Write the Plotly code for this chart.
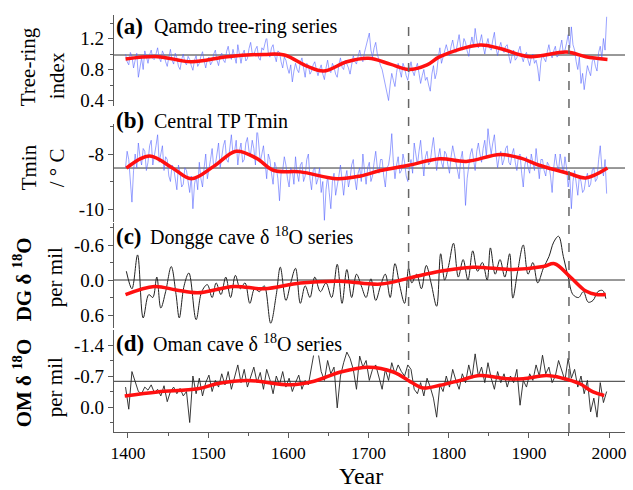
import plotly.graph_objects as go

# ---------------- data ----------------
years2 = list(range(1397, 1998, 2))
years4 = list(range(1397, 1998, 4))

tree_ring = [
    1.00, 0.90, 0.86, 1.02, 0.97, 0.82, 0.92, 1.01, 0.70, 0.85, 0.95, 0.80, 1.04, 0.97, 0.88, 0.99, 1.05, 0.94, 0.93, 1.00,
    1.08, 0.95, 0.90, 1.04, 0.99, 0.90, 0.84, 0.96, 1.06, 0.92, 0.87, 1.01, 0.95, 0.84, 0.80, 0.93, 1.00, 0.89, 0.86, 0.97,
    0.93, 0.85, 0.79, 0.92, 0.98, 0.84, 0.88, 0.97, 1.03, 0.91, 0.82, 0.93, 0.96, 0.86, 0.90, 1.00, 1.05, 0.92, 0.85, 0.97,
    1.01, 0.92, 0.89, 1.03, 1.10, 0.98, 0.93, 1.06, 0.97, 0.88, 1.12, 0.99, 0.88, 1.00, 1.05, 0.91, 0.94, 1.07, 1.15, 1.01,
    0.98, 1.06, 1.10, 0.95, 0.92, 1.08, 1.05, 1.14, 1.22, 1.02, 0.96, 1.08, 1.12, 0.98, 0.90, 1.04, 1.02, 0.90, 0.82, 0.96,
    0.92, 0.82, 0.75, 0.86, 0.64, 0.78, 0.88, 0.80, 0.76, 0.89, 0.95, 0.82, 0.70, 0.88, 0.85, 0.74, 0.78, 0.86, 0.90, 0.80,
    0.72, 0.80, 0.86, 0.74, 0.67, 0.82, 0.92, 0.79, 0.76, 0.88, 0.83, 0.74, 0.70, 0.86, 0.95, 0.83, 0.80, 0.92, 0.88, 0.82,
    0.74, 0.88, 0.98, 0.90, 0.87, 0.97, 1.05, 0.95, 0.90, 1.02, 1.10, 1.18, 1.27, 1.05, 0.96, 1.08, 1.15, 1.00, 0.92, 0.85,
    0.80, 0.70, 0.62, 0.52, 0.40, 0.60, 0.75, 0.66, 0.58, 0.76, 0.88, 0.79, 0.70, 0.88, 0.82, 0.72, 0.66, 0.80, 0.90, 0.78,
    0.72, 0.82, 0.88, 0.75, 0.62, 0.72, 0.80, 0.66, 0.70, 0.60, 0.52, 0.74, 0.85, 0.68, 0.76, 0.95, 1.08, 0.88, 0.95, 1.04,
    1.12, 1.04, 0.98, 1.10, 1.18, 1.06, 1.02, 1.14, 1.25, 1.08, 1.05, 1.20, 1.15, 1.04, 0.97, 1.12, 1.22, 1.10, 1.33, 1.18,
    1.08, 1.16, 1.25, 1.10, 1.00, 1.12, 1.20, 1.08, 1.05, 1.18, 1.28, 1.08, 0.98, 1.08, 1.15, 1.05, 1.02, 1.10, 1.12, 0.98,
    0.88, 0.98, 1.05, 0.92, 0.95, 1.04, 1.10, 0.97, 0.90, 0.99, 1.02, 0.92, 0.85, 0.96, 1.00, 0.88, 0.92, 0.82, 0.65, 0.90,
    1.00, 0.94, 0.90, 1.03, 1.12, 1.00, 0.95, 1.04, 1.10, 0.96, 0.98, 1.08, 1.18, 1.00, 1.05, 1.14, 1.25, 1.08, 1.35, 1.12,
    1.05, 0.90, 0.80, 0.96, 0.62, 0.75, 0.54, 0.70, 0.85, 0.78, 0.72, 0.90, 0.95, 0.84, 0.78, 1.02, 1.10, 0.95, 1.20, 1.05,
    1.48,
]
tree_smooth_years = [1397, 1437, 1479, 1524, 1570, 1595, 1624, 1644, 1673, 1700,
                     1727, 1750, 1773, 1789, 1839, 1864, 1901, 1947, 1971, 1998]
tree_smooth = [0.935, 0.966, 0.90, 0.966, 0.995, 0.987, 0.84, 0.78, 0.90, 0.944,
               0.87, 0.80, 0.86, 0.966, 1.116, 1.07, 0.965, 1.025, 0.965, 0.93]
tree_mean = 0.987

tmin = [
    -8.5, -7.9, -8.2, -8.9, -9.75, -8.6, -8.0, -8.5, -7.6, -8.1, -8.4, -7.8, -7.9, -8.6, -8.3, -7.7, -7.5, -8.4, -8.1, -7.7,
    -7.3, -8.3, -8.0, -7.7, -8.6, -8.1, -8.2, -8.8, -9.0, -8.4, -8.5, -9.0, -9.3, -8.4, -8.7, -9.2, -9.1, -8.5, -8.6, -9.0,
    -9.4, -8.8, -9.99, -9.1, -8.8, -9.3, -8.3, -8.9, -9.2, -8.5, -8.0, -8.9, -8.6, -8.2, -7.8, -8.5, -8.4, -8.0, -7.6, -8.5,
    -8.1, -7.7, -7.5, -8.2, -8.3, -7.8, -7.3, -8.0, -7.9, -7.5, -8.4, -7.9, -7.6, -8.3, -8.2, -7.6, -7.4, -7.9, -8.0, -7.5,
    -7.8, -8.4, -7.02, -7.6, -8.3, -8.0, -7.7, -8.3, -8.9, -8.0, -8.2, -8.7, -9.1, -8.3, -8.5, -8.9, -9.7, -8.7, -8.6, -8.1,
    -8.4, -8.9, -9.2, -8.5, -8.6, -9.1, -8.1, -8.7, -9.0, -8.4, -8.3, -9.0, -8.8, -8.2, -8.0, -8.9, -9.3, -8.6, -8.5, -9.1,
    -8.9, -8.5, -9.4, -9.0, -10.41, -9.3, -8.8, -9.4, -9.99, -9.0, -8.7, -9.5, -9.2, -8.8, -8.4, -9.1, -9.5, -8.9, -8.6, -9.2,
    -8.9, -8.4, -8.2, -8.9, -9.3, -8.7, -8.5, -9.0, -8.0, -8.6, -9.1, -8.5, -8.3, -9.0, -8.8, -8.3, -7.9, -8.5, -8.7, -8.2,
    -8.2, -8.8, -9.2, -8.5, -8.4, -8.0, -7.26, -8.3, -8.9, -8.4, -8.1, -8.7, -8.6, -8.0, -8.3, -8.8, -9.0, -8.5, -8.2, -8.7,
    -7.6, -8.0, -8.4, -7.9, -7.5, -8.2, -8.8, -8.1, -7.9, -8.4, -8.3, -7.8, -7.4, -8.0, -8.6, -8.1, -7.8, -8.3, -8.5, -7.9,
    -8.0, -8.4, -8.7, -8.1, -7.7, -8.0, -8.3, -8.6, -8.9, -8.2, -7.9, -8.6, -9.87, -8.9, -8.4, -8.0, -7.8, -8.3, -8.6, -7.9,
    -7.6, -8.0, -8.3, -7.8, -7.5, -8.1, -7.08, -7.6, -8.0, -7.6, -7.3, -8.0, -8.5, -8.1, -7.9, -8.4, -8.2, -7.8, -7.7, -8.3,
    -8.4, -8.0, -7.8, -8.3, -8.6, -8.1, -8.0, -8.7, -9.2, -8.4, -8.1, -8.5, -8.7, -8.0, -8.3, -8.6, -7.8, -8.4, -8.9, -8.2,
    -8.2, -8.6, -8.8, -8.3, -8.4, -8.8, -9.4, -8.5, -8.0, -8.4, -8.6, -8.0, -8.3, -8.7, -8.1, -8.5, -9.2, -8.8, -9.99, -9.0,
    -8.6, -9.1, -9.5, -8.8, -9.0, -9.4, -9.3, -8.9, -8.7, -9.2, -9.1, -8.6, -8.5, -9.0, -8.9, -8.2, -7.7, -8.5, -8.8, -8.2,
    -9.44,
]
tmin_smooth_years = [1398, 1427, 1455, 1479, 1507, 1535, 1560, 1582, 1615, 1661,
                     1690, 1715, 1750, 1789, 1822, 1864, 1890, 1913, 1951, 1971, 1998]
tmin_smooth = [-8.51, -8.07, -8.5, -8.9, -8.45, -7.9, -8.15, -8.6, -8.65, -8.9,
               -8.8, -8.6, -8.41, -8.17, -8.27, -8.02, -8.15, -8.41, -8.72, -8.87, -8.51]
tmin_mean = -8.51

dg_years = [1398, 1405, 1412, 1419, 1426, 1431, 1436, 1441, 1447, 1454,
            1460, 1464, 1470, 1476, 1485, 1492, 1499, 1505, 1510, 1516,
            1522, 1528, 1534, 1540, 1546, 1552, 1558, 1564, 1570, 1578,
            1585, 1590, 1597, 1603, 1609, 1615, 1621, 1627, 1633, 1640,
            1647, 1654, 1661, 1667, 1673, 1679, 1685, 1691, 1697, 1703,
            1709, 1715, 1721, 1727, 1733, 1739, 1745, 1750, 1754, 1760,
            1766, 1772, 1778, 1785, 1790, 1795, 1800, 1806, 1812, 1818,
            1824, 1830, 1836, 1842, 1848, 1852, 1858, 1864, 1870, 1876,
            1880, 1886, 1893, 1899, 1905, 1911, 1918, 1925, 1931, 1937,
            1943, 1949, 1955, 1962, 1968, 1974, 1980, 1986, 1992, 1996]
dg = [-0.15, 0.15, -0.43, 0.65, 0.25, 0.30, -0.05, 0.48, 0.20, -0.23,
      0.25, 0.65, 0.10, -0.12, 0.68, 0.20, 0.08, 0.30, 0.05, 0.25,
      -0.05, 0.30, -0.08, 0.15, 0.05, 0.40, 0.15, 0.20, 0.10, 0.74,
      0.25, -0.22, 0.35, 0.05, -0.20, 0.40, 0.10, 0.30, -0.05, 0.20,
      0.05, 0.30, -0.27, 0.40, -0.18, 0.30, -0.10, 0.10, 0.30, -0.02,
      0.35, 0.10, -0.10, 0.30, -0.28, 0.10, 0.40, -0.20, 0.05, -0.10,
      0.15, -0.25, 0.05, 0.45, -0.45, 0.00, -0.25, -0.63, -0.05, -0.35,
      0.00, -0.50, -0.15, -0.30, 0.00, -0.55, -0.10, -0.35, -0.05, -0.45,
      0.31, -0.15, -0.60, -0.10, -0.30, 0.05, -0.20, -0.40, -0.65, -0.75,
      -0.40, -0.05, 0.25, 0.30, 0.20, 0.38, 0.35, 0.20, 0.18, 0.32]
dg_smooth_years = [1397, 1433, 1460, 1487, 1532, 1570, 1615, 1665, 1715, 1750,
                   1789, 1830, 1880, 1918, 1932, 1951, 1971, 1984, 1996]
dg_smooth = [0.25, 0.11, 0.17, 0.22, 0.11, 0.15, 0.05, 0.02, 0.07, -0.03,
             -0.15, -0.22, -0.18, -0.23, -0.28, -0.06, 0.19, 0.25, 0.25]
dg_mean = 0.0

om = [
    -0.45, 0.05, -0.80, -0.55, -0.35, -0.30, -0.45, -0.38, -0.50, -0.32,
    -0.40, -0.25, -0.48, -0.12, -0.35, -0.45, -0.30, -0.42, -0.25, -0.35,
    0.35, -0.70, -0.30, -0.65, -0.25, -0.55, -0.72, -0.35, -0.60, -0.45,
    -0.75, -0.50, -0.80, -0.40, -0.68, -0.95, -0.55, -0.85, -0.45, -0.70,
    -0.90, -0.55, -0.78, -0.40, -0.85, -0.62, -0.30, -0.70, -0.50, -0.80,
    -0.45, -0.65, -0.35, -0.55, -0.72, -0.40, -0.60, -0.50, -0.95, -1.32,
    -1.25, -0.80, -0.60, -1.05, -0.75, -0.90, 0.02, -0.70, -1.00, -1.24,
    -1.10, -0.85, -0.40, -1.15, -0.90, -1.05, -0.60, -0.85, -0.95, -0.70,
    -0.40, -0.85, -0.60, -1.00, -0.75, -0.95, -0.80, -0.70, -0.95, -0.85,
    -0.40, -0.30, -0.55, -0.25, -0.65, -0.45, -0.20, 0.23, -0.50, -0.35,
    -0.70, -0.45, -0.85, -0.60, -0.40, -0.75, -0.55, -0.95, -0.65, -1.20,
    -0.70, -0.90, -0.55, -1.00, -0.65, -0.40, -0.80, -0.55, -0.75, -0.45,
    -0.70, -0.55, -0.85, -0.04, -0.60, -0.45, -0.75, -0.60, -0.95, -0.70,
    -1.17, -0.75, -0.90, -0.55, -0.70, -1.05, -0.80, -0.60, -1.10, -0.65,
    -0.85, -0.45, -0.70, -0.30, -0.60, 0.11, -0.20, 0.23, -0.55, -0.10,
    -0.35,
]
om_smooth_years = [1396, 1437, 1487, 1512, 1549, 1603, 1632, 1665, 1700, 1731,
                   1756, 1768, 1789, 1814, 1839, 1872, 1893, 1922, 1942, 1963, 1980, 1994]
om_smooth = [-0.25, -0.34, -0.41, -0.53, -0.6, -0.5, -0.58, -0.79, -0.9, -0.79,
             -0.53, -0.43, -0.49, -0.6, -0.71, -0.64, -0.64, -0.71, -0.65, -0.53, -0.34, -0.26]
om_mean = -0.58

x_ticks = [1400, 1500, 1600, 1700, 1800, 1900, 2000]
x_minor = [1450, 1550, 1650, 1750, 1850, 1950]
event_years = [1750, 1950]

a_ticks = [0.4, 0.8, 1.2]; a_ticktext = ["0.4", "0.8", "1.2"]; a_minor = [0.6, 1.0, 1.4]
b_ticks = [-10, -8]; b_ticktext = ["-10", "-8"]; b_minor = [-9, -7]
c_ticks = [-0.6, 0.0, 0.6]; c_ticktext = ["-0.6", "0.0", "0.6"]; c_minor = [-0.9, -0.3, 0.3]
d_ticks = [-1.4, -0.7, 0.0]; d_ticktext = ["-1.4", "-0.7", "0.0"]; d_minor = [-1.05, -0.35, 0.35]

# ---------------- layout helpers ----------------
W, H = 633, 490
L, R, T, B = 114, 6, 14, 58
PW, PH = W - L - R, H - T - B
FONT = "Liberation Serif, Times New Roman, serif"
AXC = "#5a5a5a"
BLUE = "rgba(85,100,255,0.85)"
RED = "#ff1010"
BLK = "#222222"


def fx(px):
    return (px - L) / PW


def fy(py):
    return (T + PH - py) / PH


fig = go.Figure()

fig.add_trace(go.Scatter(x=years2, y=tree_ring, yaxis="y", mode="lines",
                         line=dict(color=BLUE, width=0.7)))
fig.add_trace(go.Scatter(x=tree_smooth_years, y=tree_smooth, yaxis="y", mode="lines",
                         line=dict(color=RED, width=3.5, shape="spline", smoothing=1)))
fig.add_trace(go.Scatter(x=years2, y=tmin, yaxis="y2", mode="lines",
                         line=dict(color=BLUE, width=0.7)))
fig.add_trace(go.Scatter(x=tmin_smooth_years, y=tmin_smooth, yaxis="y2", mode="lines",
                         line=dict(color=RED, width=3.5, shape="spline", smoothing=1)))
fig.add_trace(go.Scatter(x=dg_years, y=dg, yaxis="y3", mode="lines",
                         line=dict(color=BLK, width=1, shape="spline", smoothing=1)))
fig.add_trace(go.Scatter(x=dg_smooth_years, y=dg_smooth, yaxis="y3", mode="lines",
                         line=dict(color=RED, width=3.5, shape="spline", smoothing=1)))
fig.add_trace(go.Scatter(x=years4, y=om, yaxis="y4", mode="lines",
                         line=dict(color=BLK, width=0.9)))
fig.add_trace(go.Scatter(x=om_smooth_years, y=om_smooth, yaxis="y4", mode="lines",
                         line=dict(color=RED, width=3.5, shape="spline", smoothing=1)))


def yax(top_px, bot_px, rng, tv, tt, mv):
    return dict(domain=[fy(bot_px), fy(top_px)], range=rng, anchor="x",
                showline=True, linecolor=AXC, linewidth=1.2, mirror=False,
                showgrid=False, zeroline=False,
                tickmode="array", tickvals=tv, ticktext=tt,
                ticks="outside", ticklen=5, tickcolor=AXC, tickwidth=1.2,
                tickfont=dict(family=FONT, size=19, color="black"),
                minor=dict(tickmode="array", tickvals=mv, ticks="outside",
                           ticklen=3, tickcolor=AXC, tickwidth=1, showgrid=False))


# pixel extents of each panel in the reference
a_top, a_bot = 15, 106
b_top, b_bot = 124, 222
c_top, c_bot = 223, 328
d_top, d_bot = 330, 432


def lin(v1, p1, v2, p2, p):
    return v1 + (p - p1) * (v2 - v1) / (p2 - p1)


fig.update_layout(
    width=W, height=H,
    margin=dict(l=L, r=R, t=T, b=B),
    paper_bgcolor="white", plot_bgcolor="white",
    showlegend=False,
    font=dict(family=FONT, color="black"),
    xaxis=dict(domain=[0, 1], anchor="y4",
               range=[lin(1400, 128, 2000, 611, L), lin(1400, 128, 2000, 611, W - R)],
               showline=True, linecolor=AXC, linewidth=1.2, showgrid=False, zeroline=False,
               tickmode="array", tickvals=x_ticks, ticktext=[str(v) for v in x_ticks],
               ticks="outside", ticklen=5, tickcolor=AXC, tickwidth=1.2,
               tickfont=dict(family=FONT, size=17.5, color="black"),
               minor=dict(tickmode="array", tickvals=x_minor, ticks="outside",
                          ticklen=3, tickcolor=AXC, tickwidth=1, showgrid=False)),
    yaxis=yax(a_top, a_bot, [lin(1.2, 38.5, 0.4, 100.5, a_bot), lin(1.2, 38.5, 0.4, 100.5, a_top)],
              a_ticks, a_ticktext, a_minor),
    yaxis2=yax(b_top, b_bot, [lin(-8, 154, -10, 209, b_bot), lin(-8, 154, -10, 209, b_top)],
               b_ticks, b_ticktext, b_minor),
    yaxis3=yax(c_top, c_bot, [lin(-0.6, 245, 0.6, 315, c_bot), lin(-0.6, 245, 0.6, 315, c_top)],
               c_ticks, c_ticktext, c_minor),
    yaxis4=yax(d_top, d_bot, [lin(-1.4, 345, 0.0, 407, d_bot), lin(-1.4, 345, 0.0, 407, d_top)],
               d_ticks, d_ticktext, d_minor),
)

shapes = []
for yr, m in [("y", tree_mean), ("y2", tmin_mean), ("y3", dg_mean), ("y4", om_mean)]:
    shapes.append(dict(type="line", xref="paper", yref=yr, x0=0, x1=1, y0=m, y1=m,
                       line=dict(color="#333333", width=1), layer="below"))
for ev in event_years:
    shapes.append(dict(type="line", xref="x", yref="paper", x0=ev, x1=ev,
                       y0=0, y1=fy(23), line=dict(color="#666666", width=1.5, dash="dash")))
fig.update_layout(shapes=shapes)

ann = []
labels = [
    ("(a)", "Qamdo tree-ring series", 26, 153),
    ("(b)", "Central TP Tmin", 121, 153),
    ("(c)", "Dongge cave δ <sup>18</sup>O series", 236, 149),
    ("(d)", "Oman cave δ <sup>18</sup>O series", 343, 152),
]
for tag, desc, ypx, dx in labels:
    ann.append(dict(xref="paper", yref="paper", x=fx(115), y=fy(ypx), xanchor="left",
                    yanchor="middle", showarrow=False, text="<b>" + tag + "</b>",
                    font=dict(family=FONT, size=23, color="black"),
                    bgcolor="white", borderpad=0))
    ann.append(dict(xref="paper", yref="paper", x=fx(dx), y=fy(ypx), xanchor="left",
                    yanchor="middle", showarrow=False, text=desc,
                    font=dict(family=FONT, size=20, color="black"),
                    bgcolor="white", borderpad=0))

ytitles = [
    ("Tree-ring", 28, 67, False), ("index", 57, 76, False),
    ("Tmin", 29, 167, False), ("/ ° C", 57, 168, False),
    ("DG δ <sup>18</sup>O", 22, 279, True), ("per mil", 55, 277, False),
    ("OM δ <sup>18</sup>O", 22, 383, True), ("per mil", 55, 387, False),
]
for txt, xp, yp, bold in ytitles:
    ann.append(dict(xref="paper", yref="paper", x=fx(xp), y=fy(yp), xanchor="center",
                    yanchor="middle", showarrow=False, textangle=-90,
                    text=("<b>" + txt + "</b>") if bold else txt,
                    font=dict(family=FONT, size=21, color="black")))

ann.append(dict(xref="paper", yref="paper", x=fx(362), y=fy(490), xanchor="center",
                yanchor="bottom", showarrow=False, text="Year", borderpad=0,
                font=dict(family=FONT, size=24, color="black")))
fig.update_layout(annotations=ann)

fig.write_html("out.html")
